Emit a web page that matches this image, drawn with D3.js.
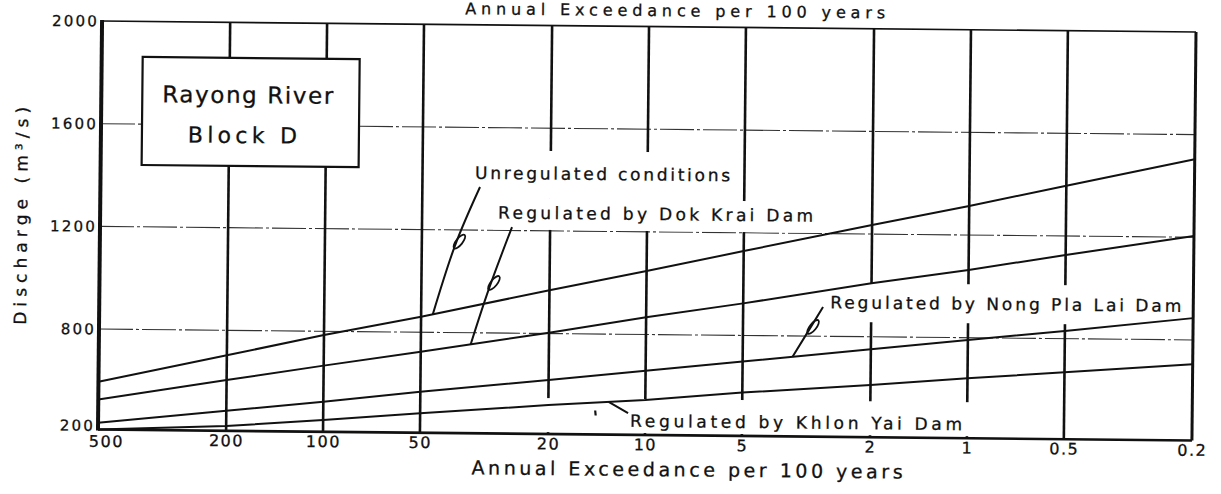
<!DOCTYPE html>
<html>
<head>
<meta charset="utf-8">
<script src="https://cdn.jsdelivr.net/npm/d3@7"></script>
<style>
  body { margin: 0; background: #fff; }
  svg { display: block; font-family: "DejaVu Sans", sans-serif; }
</style>
</head>
<body>
<svg id="chart" width="1221" height="494"></svg>
<script>
// exceedance (per 100 years) along the x axis, read at each grid line
var xTicks = [500, 200, 100, 50, 20, 10, 5, 2, 1, 0.5, 0.2];
var xTickLabels = ["500", "200", "100", "50", "20", "10", "5", "2", "1", "0.5", "0.2"];
var yTicks = [200, 800, 1200, 1600, 2000];
var yGrid = [800, 1200, 1600];

// discharge (m3/s) at each x tick
var unregulated = [485, 651, 778, 860, 969, 1047, 1129, 1235, 1313, 1396, 1504];
var dokKrai     = [380, 503, 595, 684, 803, 867, 925, 1008, 1064, 1126, 1205];
var nongPlaLai  = [241, 320, 380, 445, 522, 584, 644, 725, 786, 830, 885];
var khlonYai    = [200, 229, 270, 316, 373, 409, 459, 512, 558, 599, 655];
var seriesNames = ["Unregulated conditions", "Regulated by Dok Krai Dam",
                   "Regulated by Nong Pla Lai Dam", "Regulated by Khlon Yai Dam"];
var allSeries = [unregulated, dokKrai, nongPlaLai, khlonYai];

var margin = {left: 100, right: 27, top: 26.5, bottom: 59};
var W = 1221, H = 494;
var plotRight = W - margin.right;
var plotBottom = H - margin.bottom;
var ink = "#111";

var svg = d3.select("#chart");
svg.append("rect").attr("width", W).attr("height", H).attr("fill", "#fff");

// the scan is slightly tilted
var g = svg.append("g").attr("transform", "rotate(0.57, 647, 230)");

var x = d3.scaleLog().domain([500, 0.2]).range([margin.left, plotRight]);
// the printed axis is not evenly spaced below 800
var y = d3.scaleLinear().domain([200, 800, 2000]).range([plotBottom, 334.5, margin.top]);

// horizontal grid (thin dash-dot)
g.selectAll(".hgrid").data(yGrid).enter().append("line")
  .attr("class", "hgrid")
  .attr("x1", margin.left).attr("x2", plotRight)
  .attr("y1", function(d) { return y(d); })
  .attr("y2", function(d) { return y(d); })
  .attr("stroke", "#333").attr("stroke-width", 1.1)
  .attr("stroke-dasharray", "34,3,3,3");

// vertical grid (heavy)
g.selectAll(".vgrid").data(xTicks.slice(1, -1)).enter().append("line")
  .attr("class", "vgrid")
  .attr("x1", function(d) { return x(d); })
  .attr("x2", function(d) { return x(d); })
  .attr("y1", margin.top).attr("y2", plotBottom)
  .attr("stroke", ink).attr("stroke-width", 2.6);

// white areas behind the curve labels (grid is broken there)
var knockouts = [
  [470, 152, 265, 48],
  [493, 200, 325, 31],
  [825, 281, 362, 39],
  [540, 399, 436, 34]
];
g.selectAll(".ko").data(knockouts).enter().append("rect")
  .attr("x", function(d) { return d[0]; })
  .attr("y", function(d) { return d[1]; })
  .attr("width", function(d) { return d[2]; })
  .attr("height", function(d) { return d[3]; })
  .attr("fill", "#fff");

// frame
g.append("line").attr("x1", margin.left).attr("x2", plotRight)
  .attr("y1", margin.top).attr("y2", margin.top)
  .attr("stroke", ink).attr("stroke-width", 1.6);
g.append("line").attr("x1", margin.left).attr("x2", plotRight)
  .attr("y1", plotBottom).attr("y2", plotBottom)
  .attr("stroke", ink).attr("stroke-width", 2.6);
g.append("line").attr("x1", plotRight).attr("x2", plotRight)
  .attr("y1", margin.top).attr("y2", plotBottom)
  .attr("stroke", ink).attr("stroke-width", 3);
g.append("line").attr("x1", margin.left).attr("x2", margin.left)
  .attr("y1", margin.top - 1).attr("y2", plotBottom + 1)
  .attr("stroke", ink).attr("stroke-width", 4);

// curves
var line = d3.line()
  .x(function(d, i) { return x(xTicks[i]); })
  .y(function(d) { return y(d); });

g.selectAll(".curve").data(allSeries).enter().append("path")
  .attr("class", "curve")
  .attr("d", line)
  .attr("fill", "none")
  .attr("stroke", ink)
  .attr("stroke-width", 2);

// axes
var yAxis = d3.axisLeft(y).tickValues(yTicks).tickSize(0).tickPadding(3)
  .tickFormat(d3.format("d"));
var ya = g.append("g").attr("transform", "translate(" + margin.left + ",0)").call(yAxis);
ya.select(".domain").remove();
ya.selectAll("text").attr("font-size", 15).attr("letter-spacing", 2.2)
  .attr("fill", ink).attr("stroke", ink).attr("stroke-width", 0.3)
  .attr("font-family", "DejaVu Sans");
// lowest label sits a little above the corner
ya.selectAll(".tick").filter(function(d) { return d === 200; })
  .select("text").attr("y", -4);

var xAxis = d3.axisBottom(x).tickValues(xTicks).tickSize(0).tickPadding(4)
  .tickFormat(function(d, i) { return xTickLabels[i]; });
var xa = g.append("g").attr("transform", "translate(0," + plotBottom + ")").call(xAxis);
xa.select(".domain").remove();
xa.selectAll("text").attr("font-size", 16).attr("letter-spacing", 1.5)
  .attr("fill", ink).attr("stroke", ink).attr("stroke-width", 0.3)
  .attr("font-family", "DejaVu Sans");
xa.selectAll(".tick").filter(function(d) { return d === 500; })
  .select("text").attr("x", 8).attr("y", 6);

// axis titles
function addText(sel) {
  return sel.append("text").attr("fill", ink).attr("stroke", ink)
    .attr("stroke-width", 0.3).attr("lengthAdjust", "spacing");
}
addText(g).attr("x", 463).attr("y", 16)
  .attr("font-size", 16).attr("textLength", 420)
  .text("Annual  Exceedance  per  100  years");
addText(g).attr("x", 474).attr("y", 476)
  .attr("font-size", 19).attr("textLength", 431)
  .text("Annual  Exceedance  per  100  years");
addText(g).attr("transform", "translate(27,222) rotate(-90)")
  .attr("text-anchor", "middle")
  .attr("font-size", 17).attr("textLength", 218)
  .text("Discharge  (m\u00b3/s)");

// title box
g.append("rect").attr("x", 141).attr("y", 62).attr("width", 217).attr("height", 108)
  .attr("fill", "#fff").attr("stroke", ink).attr("stroke-width", 2.2);
addText(g).attr("x", 161).attr("y", 107)
  .attr("font-size", 23).attr("textLength", 171)
  .text("Rayong  River");
addText(g).attr("x", 187).attr("y", 147)
  .attr("font-size", 22).attr("textLength", 109)
  .text("Block  D");

// curve labels
var labels = [
  {text: seriesNames[0], x: 474.5, y: 180.5, len: 255},
  {text: seriesNames[1], x: 498, y: 220, len: 315},
  {text: seriesNames[2], x: 831, y: 306.5, len: 351},
  {text: seriesNames[3], x: 632, y: 427, len: 332}
];
g.selectAll(".lbl").data(labels).enter().append("text")
  .attr("class", "lbl")
  .attr("x", function(d) { return d.x; })
  .attr("y", function(d) { return d.y; })
  .attr("font-size", 17)
  .attr("textLength", function(d) { return d.len; })
  .attr("lengthAdjust", "spacing")
  .attr("fill", ink).attr("stroke", ink).attr("stroke-width", 0.3)
  .text(function(d) { return d.text.replace(/ /g, "  "); });

// leader lines, ending on the curve at a given exceedance
function pointOn(vals, e) {
  var px = x(e);
  for (var i = 0; i < xTicks.length - 1; i++) {
    var x0 = x(xTicks[i]), x1 = x(xTicks[i + 1]);
    if (px >= x0 && px <= x1) {
      var t = (px - x0) / (x1 - x0);
      return [px, y(vals[i]) + t * (y(vals[i + 1]) - y(vals[i]))];
    }
  }
  return [px, y(vals[0])];
}

var leaders = [
  {from: [479.6, 188.7], via: [455, 248], at: 46, s: 0, loop: [459.5, 243.5]},
  {from: [512, 228.4], via: [490, 289], at: 35, s: 1, loop: [494.5, 284.5]},
  {from: [823.8, 305.2], via: [809, 330], at: 3.5, s: 2, loop: [814, 325.3]},
  {from: [629.9, 413.2], via: [616, 405.5], at: 13, s: 3, loop: null}
];
var lead = d3.line().curve(d3.curveNatural);
leaders.forEach(function(d) {
  var end = pointOn(allSeries[d.s], d.at);
  g.append("path").attr("d", lead([d.from, d.via, end]))
    .attr("fill", "none").attr("stroke", ink).attr("stroke-width", 2);
  if (d.loop) {
    g.append("ellipse")
      .attr("transform", "translate(" + d.loop[0] + "," + d.loop[1] + ") rotate(38)")
      .attr("rx", 3.2).attr("ry", 8.5)
      .attr("fill", "none").attr("stroke", ink).attr("stroke-width", 1.8);
  }
});
g.append("line").attr("x1", 597).attr("x2", 597.5).attr("y1", 411).attr("y2", 416)
  .attr("stroke", ink).attr("stroke-width", 2.2);
</script>
</body>
</html>
